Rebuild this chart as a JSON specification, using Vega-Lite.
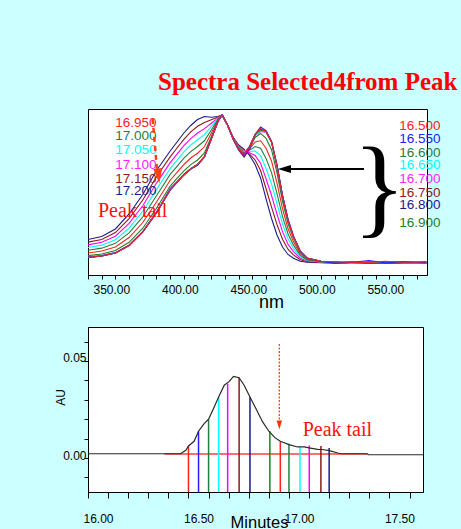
{
"$schema": "https://vega.github.io/schema/vega-lite/v6.json",
"background": "#CCFFFF",
"padding": {"left": 53, "top": 69, "right": 5, "bottom": 5},
"bounds": "flush",
"spacing": 52,
"config": {
  "view": {"stroke": "#000000", "strokeWidth": 1, "fill": "#FFFFFF"},
  "axis": {"domainColor": "#000", "tickColor": "#000", "labelColor": "#000", "titleColor": "#000", "labelFont": "Liberation Sans", "titleFont": "Liberation Sans", "grid": false, "titleFontWeight": "normal", "labelOverlap": false, "labelBound": false}
},
"vconcat": [
{
  "width": 339, "height": 166,
  "title": {"text": "Spectra Selected4from Peak", "font": "Liberation Serif", "fontSize": 25, "fontWeight": "bold", "color": "#FF0000", "anchor": "start", "frame": "group", "dx": 70, "baseline": "alphabetic", "offset": -6},
  "layer": [
    {
      "data": {"values": [
{"t":"17.200","w":350,"a":0.17},{"t":"17.200","w":360,"a":0.19},{"t":"17.200","w":370,"a":0.24},{"t":"17.200","w":380,"a":0.34},{"t":"17.200","w":390,"a":0.47},{"t":"17.200","w":400,"a":0.63},{"t":"17.200","w":410,"a":0.76},{"t":"17.200","w":415,"a":0.82},{"t":"17.200","w":420,"a":0.88},{"t":"17.200","w":425,"a":0.93},{"t":"17.200","w":430,"a":0.97},{"t":"17.200","w":435,"a":0.99},{"t":"17.200","w":440,"a":0.985},{"t":"17.200","w":445,"a":0.99},{"t":"17.200","w":448,"a":1.0},{"t":"17.200","w":452,"a":0.93},{"t":"17.200","w":456,"a":0.85},{"t":"17.200","w":460,"a":0.80},{"t":"17.200","w":464,"a":0.77},{"t":"17.200","w":468,"a":0.73},{"t":"17.200","w":472,"a":0.67},{"t":"17.200","w":476,"a":0.58},{"t":"17.200","w":480,"a":0.44},{"t":"17.200","w":484,"a":0.31},{"t":"17.200","w":488,"a":0.20},{"t":"17.200","w":492,"a":0.12},{"t":"17.200","w":496,"a":0.07},{"t":"17.200","w":500,"a":0.045},{"t":"17.200","w":505,"a":0.025},{"t":"17.200","w":510,"a":0.018},{"t":"17.200","w":520,"a":0.015},{"t":"17.200","w":530,"a":0.012},{"t":"17.200","w":542,"a":0.02},{"t":"17.200","w":555,"a":0.01},{"t":"17.200","w":567,"a":0.015},{"t":"17.200","w":580,"a":0.012},{"t":"17.200","w":597,"a":0.02},
{"t":"17.150","w":350,"a":0.152},{"t":"17.150","w":360,"a":0.17},{"t":"17.150","w":370,"a":0.216},{"t":"17.150","w":380,"a":0.309},{"t":"17.150","w":390,"a":0.433},{"t":"17.150","w":400,"a":0.588},{"t":"17.150","w":410,"a":0.721},{"t":"17.150","w":415,"a":0.78},{"t":"17.150","w":420,"a":0.838},{"t":"17.150","w":425,"a":0.887},{"t":"17.150","w":430,"a":0.925},{"t":"17.150","w":435,"a":0.95},{"t":"17.150","w":440,"a":0.968},{"t":"17.150","w":445,"a":0.986},{"t":"17.150","w":448,"a":1.0},{"t":"17.150","w":452,"a":0.93},{"t":"17.150","w":456,"a":0.849},{"t":"17.150","w":460,"a":0.796},{"t":"17.150","w":464,"a":0.766},{"t":"17.150","w":468,"a":0.739},{"t":"17.150","w":472,"a":0.70},{"t":"17.150","w":476,"a":0.63},{"t":"17.150","w":480,"a":0.508},{"t":"17.150","w":484,"a":0.386},{"t":"17.150","w":488,"a":0.269},{"t":"17.150","w":492,"a":0.171},{"t":"17.150","w":496,"a":0.105},{"t":"17.150","w":500,"a":0.067},{"t":"17.150","w":505,"a":0.035},{"t":"17.150","w":510,"a":0.022},{"t":"17.150","w":520,"a":0.016},{"t":"17.150","w":530,"a":0.015},{"t":"17.150","w":542,"a":0.01},{"t":"17.150","w":555,"a":0.018},{"t":"17.150","w":567,"a":0.012},{"t":"17.150","w":580,"a":0.016},{"t":"17.150","w":597,"a":0.01},
{"t":"17.100","w":350,"a":0.134},{"t":"17.100","w":360,"a":0.151},{"t":"17.100","w":370,"a":0.192},{"t":"17.100","w":380,"a":0.277},{"t":"17.100","w":390,"a":0.395},{"t":"17.100","w":400,"a":0.546},{"t":"17.100","w":410,"a":0.682},{"t":"17.100","w":415,"a":0.739},{"t":"17.100","w":420,"a":0.796},{"t":"17.100","w":425,"a":0.843},{"t":"17.100","w":430,"a":0.88},{"t":"17.100","w":435,"a":0.909},{"t":"17.100","w":440,"a":0.945},{"t":"17.100","w":445,"a":0.981},{"t":"17.100","w":448,"a":1.0},{"t":"17.100","w":452,"a":0.93},{"t":"17.100","w":456,"a":0.847},{"t":"17.100","w":460,"a":0.791},{"t":"17.100","w":464,"a":0.761},{"t":"17.100","w":468,"a":0.748},{"t":"17.100","w":472,"a":0.73},{"t":"17.100","w":476,"a":0.679},{"t":"17.100","w":480,"a":0.575},{"t":"17.100","w":484,"a":0.463},{"t":"17.100","w":488,"a":0.338},{"t":"17.100","w":492,"a":0.222},{"t":"17.100","w":496,"a":0.139},{"t":"17.100","w":500,"a":0.089},{"t":"17.100","w":505,"a":0.045},{"t":"17.100","w":510,"a":0.026},{"t":"17.100","w":520,"a":0.018},{"t":"17.100","w":530,"a":0.018},{"t":"17.100","w":542,"a":0.012},{"t":"17.100","w":555,"a":0.014},{"t":"17.100","w":567,"a":0.02},{"t":"17.100","w":580,"a":0.01},{"t":"17.100","w":597,"a":0.015},
{"t":"17.050","w":350,"a":0.116},{"t":"17.050","w":360,"a":0.132},{"t":"17.050","w":370,"a":0.168},{"t":"17.050","w":380,"a":0.246},{"t":"17.050","w":390,"a":0.358},{"t":"17.050","w":400,"a":0.504},{"t":"17.050","w":410,"a":0.643},{"t":"17.050","w":415,"a":0.699},{"t":"17.050","w":420,"a":0.754},{"t":"17.050","w":425,"a":0.80},{"t":"17.050","w":430,"a":0.835},{"t":"17.050","w":435,"a":0.869},{"t":"17.050","w":440,"a":0.923},{"t":"17.050","w":445,"a":0.977},{"t":"17.050","w":448,"a":1.0},{"t":"17.050","w":452,"a":0.93},{"t":"17.050","w":456,"a":0.846},{"t":"17.050","w":460,"a":0.787},{"t":"17.050","w":464,"a":0.757},{"t":"17.050","w":468,"a":0.757},{"t":"17.050","w":472,"a":0.76},{"t":"17.050","w":476,"a":0.729},{"t":"17.050","w":480,"a":0.643},{"t":"17.050","w":484,"a":0.54},{"t":"17.050","w":488,"a":0.407},{"t":"17.050","w":492,"a":0.273},{"t":"17.050","w":496,"a":0.174},{"t":"17.050","w":500,"a":0.11},{"t":"17.050","w":505,"a":0.054},{"t":"17.050","w":510,"a":0.03},{"t":"17.050","w":520,"a":0.02},{"t":"17.050","w":530,"a":0.014},{"t":"17.050","w":542,"a":0.018},{"t":"17.050","w":555,"a":0.012},{"t":"17.050","w":567,"a":0.01},{"t":"17.050","w":580,"a":0.018},{"t":"17.050","w":597,"a":0.012},
{"t":"17.000","w":350,"a":0.098},{"t":"17.000","w":360,"a":0.112},{"t":"17.000","w":370,"a":0.144},{"t":"17.000","w":380,"a":0.214},{"t":"17.000","w":390,"a":0.32},{"t":"17.000","w":400,"a":0.462},{"t":"17.000","w":410,"a":0.604},{"t":"17.000","w":415,"a":0.658},{"t":"17.000","w":420,"a":0.712},{"t":"17.000","w":425,"a":0.756},{"t":"17.000","w":430,"a":0.79},{"t":"17.000","w":435,"a":0.828},{"t":"17.000","w":440,"a":0.90},{"t":"17.000","w":445,"a":0.972},{"t":"17.000","w":448,"a":1.0},{"t":"17.000","w":452,"a":0.93},{"t":"17.000","w":456,"a":0.844},{"t":"17.000","w":460,"a":0.782},{"t":"17.000","w":464,"a":0.752},{"t":"17.000","w":468,"a":0.766},{"t":"17.000","w":472,"a":0.79},{"t":"17.000","w":476,"a":0.778},{"t":"17.000","w":480,"a":0.71},{"t":"17.000","w":484,"a":0.616},{"t":"17.000","w":488,"a":0.476},{"t":"17.000","w":492,"a":0.324},{"t":"17.000","w":496,"a":0.208},{"t":"17.000","w":500,"a":0.132},{"t":"17.000","w":505,"a":0.064},{"t":"17.000","w":510,"a":0.034},{"t":"17.000","w":520,"a":0.021},{"t":"17.000","w":530,"a":0.016},{"t":"17.000","w":542,"a":0.012},{"t":"17.000","w":555,"a":0.02},{"t":"17.000","w":567,"a":0.014},{"t":"17.000","w":580,"a":0.012},{"t":"17.000","w":597,"a":0.018},
{"t":"16.950","w":350,"a":0.08},{"t":"16.950","w":360,"a":0.093},{"t":"16.950","w":370,"a":0.12},{"t":"16.950","w":380,"a":0.183},{"t":"16.950","w":390,"a":0.283},{"t":"16.950","w":400,"a":0.42},{"t":"16.950","w":410,"a":0.565},{"t":"16.950","w":415,"a":0.618},{"t":"16.950","w":420,"a":0.67},{"t":"16.950","w":425,"a":0.713},{"t":"16.950","w":430,"a":0.745},{"t":"16.950","w":435,"a":0.788},{"t":"16.950","w":440,"a":0.878},{"t":"16.950","w":445,"a":0.968},{"t":"16.950","w":448,"a":1.0},{"t":"16.950","w":452,"a":0.93},{"t":"16.950","w":456,"a":0.843},{"t":"16.950","w":460,"a":0.778},{"t":"16.950","w":464,"a":0.748},{"t":"16.950","w":468,"a":0.775},{"t":"16.950","w":472,"a":0.82},{"t":"16.950","w":476,"a":0.828},{"t":"16.950","w":480,"a":0.778},{"t":"16.950","w":484,"a":0.693},{"t":"16.950","w":488,"a":0.545},{"t":"16.950","w":492,"a":0.375},{"t":"16.950","w":496,"a":0.243},{"t":"16.950","w":500,"a":0.154},{"t":"16.950","w":505,"a":0.074},{"t":"16.950","w":510,"a":0.038},{"t":"16.950","w":520,"a":0.022},{"t":"16.950","w":530,"a":0.02},{"t":"16.950","w":542,"a":0.015},{"t":"16.950","w":555,"a":0.012},{"t":"16.950","w":567,"a":0.018},{"t":"16.950","w":580,"a":0.022},{"t":"16.950","w":597,"a":0.014},
{"t":"16.900","w":350,"a":0.062},{"t":"16.900","w":360,"a":0.073},{"t":"16.900","w":370,"a":0.096},{"t":"16.900","w":380,"a":0.151},{"t":"16.900","w":390,"a":0.245},{"t":"16.900","w":400,"a":0.378},{"t":"16.900","w":410,"a":0.526},{"t":"16.900","w":415,"a":0.577},{"t":"16.900","w":420,"a":0.628},{"t":"16.900","w":425,"a":0.669},{"t":"16.900","w":430,"a":0.70},{"t":"16.900","w":435,"a":0.747},{"t":"16.900","w":440,"a":0.855},{"t":"16.900","w":445,"a":0.963},{"t":"16.900","w":448,"a":1.0},{"t":"16.900","w":452,"a":0.93},{"t":"16.900","w":456,"a":0.841},{"t":"16.900","w":460,"a":0.773},{"t":"16.900","w":464,"a":0.743},{"t":"16.900","w":468,"a":0.784},{"t":"16.900","w":472,"a":0.85},{"t":"16.900","w":476,"a":0.877},{"t":"16.900","w":480,"a":0.845},{"t":"16.900","w":484,"a":0.769},{"t":"16.900","w":488,"a":0.614},{"t":"16.900","w":492,"a":0.426},{"t":"16.900","w":496,"a":0.277},{"t":"16.900","w":500,"a":0.176},{"t":"16.900","w":505,"a":0.084},{"t":"16.900","w":510,"a":0.042},{"t":"16.900","w":520,"a":0.024},{"t":"16.900","w":530,"a":0.015},{"t":"16.900","w":542,"a":0.02},{"t":"16.900","w":555,"a":0.014},{"t":"16.900","w":567,"a":0.012},{"t":"16.900","w":580,"a":0.016},{"t":"16.900","w":597,"a":0.012},
{"t":"16.800","w":350,"a":0.052},{"t":"16.800","w":360,"a":0.062},{"t":"16.800","w":370,"a":0.082},{"t":"16.800","w":380,"a":0.132},{"t":"16.800","w":390,"a":0.222},{"t":"16.800","w":400,"a":0.352},{"t":"16.800","w":410,"a":0.51},{"t":"16.800","w":415,"a":0.555},{"t":"16.800","w":420,"a":0.603},{"t":"16.800","w":425,"a":0.642},{"t":"16.800","w":430,"a":0.672},{"t":"16.800","w":435,"a":0.722},{"t":"16.800","w":440,"a":0.842},{"t":"16.800","w":445,"a":0.96},{"t":"16.800","w":448,"a":1.0},{"t":"16.800","w":452,"a":0.93},{"t":"16.800","w":456,"a":0.838},{"t":"16.800","w":460,"a":0.765},{"t":"16.800","w":464,"a":0.72},{"t":"16.800","w":468,"a":0.775},{"t":"16.800","w":472,"a":0.865},{"t":"16.800","w":476,"a":0.905},{"t":"16.800","w":480,"a":0.888},{"t":"16.800","w":484,"a":0.818},{"t":"16.800","w":488,"a":0.658},{"t":"16.800","w":492,"a":0.458},{"t":"16.800","w":496,"a":0.298},{"t":"16.800","w":500,"a":0.188},{"t":"16.800","w":505,"a":0.089},{"t":"16.800","w":510,"a":0.045},{"t":"16.800","w":520,"a":0.025},{"t":"16.800","w":530,"a":0.018},{"t":"16.800","w":542,"a":0.012},{"t":"16.800","w":555,"a":0.02},{"t":"16.800","w":567,"a":0.016},{"t":"16.800","w":580,"a":0.014},{"t":"16.800","w":597,"a":0.02},
{"t":"16.750","w":350,"a":0.05},{"t":"16.750","w":360,"a":0.06},{"t":"16.750","w":370,"a":0.08},{"t":"16.750","w":380,"a":0.13},{"t":"16.750","w":390,"a":0.22},{"t":"16.750","w":400,"a":0.35},{"t":"16.750","w":410,"a":0.50},{"t":"16.750","w":415,"a":0.55},{"t":"16.750","w":420,"a":0.60},{"t":"16.750","w":425,"a":0.64},{"t":"16.750","w":430,"a":0.67},{"t":"16.750","w":435,"a":0.72},{"t":"16.750","w":440,"a":0.84},{"t":"16.750","w":445,"a":0.96},{"t":"16.750","w":448,"a":1.0},{"t":"16.750","w":452,"a":0.93},{"t":"16.750","w":456,"a":0.84},{"t":"16.750","w":460,"a":0.768},{"t":"16.750","w":464,"a":0.725},{"t":"16.750","w":468,"a":0.78},{"t":"16.750","w":472,"a":0.865},{"t":"16.750","w":476,"a":0.90},{"t":"16.750","w":480,"a":0.887},{"t":"16.750","w":484,"a":0.82},{"t":"16.750","w":488,"a":0.66},{"t":"16.750","w":492,"a":0.46},{"t":"16.750","w":496,"a":0.30},{"t":"16.750","w":500,"a":0.19},{"t":"16.750","w":505,"a":0.09},{"t":"16.750","w":510,"a":0.045},{"t":"16.750","w":520,"a":0.025},{"t":"16.750","w":530,"a":0.015},{"t":"16.750","w":542,"a":0.018},{"t":"16.750","w":555,"a":0.012},{"t":"16.750","w":567,"a":0.014},{"t":"16.750","w":580,"a":0.02},{"t":"16.750","w":597,"a":0.015},
{"t":"16.700","w":350,"a":0.051},{"t":"16.700","w":360,"a":0.061},{"t":"16.700","w":370,"a":0.081},{"t":"16.700","w":380,"a":0.131},{"t":"16.700","w":390,"a":0.222},{"t":"16.700","w":400,"a":0.355},{"t":"16.700","w":410,"a":0.505},{"t":"16.700","w":415,"a":0.553},{"t":"16.700","w":420,"a":0.602},{"t":"16.700","w":425,"a":0.641},{"t":"16.700","w":430,"a":0.671},{"t":"16.700","w":435,"a":0.721},{"t":"16.700","w":440,"a":0.841},{"t":"16.700","w":445,"a":0.96},{"t":"16.700","w":448,"a":1.0},{"t":"16.700","w":452,"a":0.93},{"t":"16.700","w":456,"a":0.84},{"t":"16.700","w":460,"a":0.768},{"t":"16.700","w":464,"a":0.73},{"t":"16.700","w":468,"a":0.782},{"t":"16.700","w":472,"a":0.866},{"t":"16.700","w":476,"a":0.89},{"t":"16.700","w":480,"a":0.885},{"t":"16.700","w":484,"a":0.82},{"t":"16.700","w":488,"a":0.662},{"t":"16.700","w":492,"a":0.462},{"t":"16.700","w":496,"a":0.302},{"t":"16.700","w":500,"a":0.19},{"t":"16.700","w":505,"a":0.09},{"t":"16.700","w":510,"a":0.046},{"t":"16.700","w":520,"a":0.025},{"t":"16.700","w":530,"a":0.02},{"t":"16.700","w":542,"a":0.014},{"t":"16.700","w":555,"a":0.016},{"t":"16.700","w":567,"a":0.012},{"t":"16.700","w":580,"a":0.018},{"t":"16.700","w":597,"a":0.012},
{"t":"16.650","w":350,"a":0.05},{"t":"16.650","w":360,"a":0.06},{"t":"16.650","w":370,"a":0.08},{"t":"16.650","w":380,"a":0.13},{"t":"16.650","w":390,"a":0.22},{"t":"16.650","w":400,"a":0.35},{"t":"16.650","w":410,"a":0.50},{"t":"16.650","w":415,"a":0.55},{"t":"16.650","w":420,"a":0.60},{"t":"16.650","w":425,"a":0.64},{"t":"16.650","w":430,"a":0.67},{"t":"16.650","w":435,"a":0.72},{"t":"16.650","w":440,"a":0.84},{"t":"16.650","w":445,"a":0.96},{"t":"16.650","w":448,"a":1.0},{"t":"16.650","w":452,"a":0.93},{"t":"16.650","w":456,"a":0.84},{"t":"16.650","w":460,"a":0.77},{"t":"16.650","w":464,"a":0.75},{"t":"16.650","w":468,"a":0.79},{"t":"16.650","w":472,"a":0.868},{"t":"16.650","w":476,"a":0.895},{"t":"16.650","w":480,"a":0.886},{"t":"16.650","w":484,"a":0.82},{"t":"16.650","w":488,"a":0.66},{"t":"16.650","w":492,"a":0.46},{"t":"16.650","w":496,"a":0.30},{"t":"16.650","w":500,"a":0.19},{"t":"16.650","w":505,"a":0.09},{"t":"16.650","w":510,"a":0.045},{"t":"16.650","w":520,"a":0.025},{"t":"16.650","w":530,"a":0.016},{"t":"16.650","w":542,"a":0.012},{"t":"16.650","w":555,"a":0.018},{"t":"16.650","w":567,"a":0.02},{"t":"16.650","w":580,"a":0.013},{"t":"16.650","w":597,"a":0.016},
{"t":"16.600","w":350,"a":0.05},{"t":"16.600","w":360,"a":0.06},{"t":"16.600","w":370,"a":0.08},{"t":"16.600","w":380,"a":0.13},{"t":"16.600","w":390,"a":0.22},{"t":"16.600","w":400,"a":0.35},{"t":"16.600","w":410,"a":0.50},{"t":"16.600","w":415,"a":0.55},{"t":"16.600","w":420,"a":0.605},{"t":"16.600","w":425,"a":0.64},{"t":"16.600","w":430,"a":0.67},{"t":"16.600","w":435,"a":0.72},{"t":"16.600","w":440,"a":0.84},{"t":"16.600","w":445,"a":0.96},{"t":"16.600","w":448,"a":1.0},{"t":"16.600","w":452,"a":0.93},{"t":"16.600","w":456,"a":0.84},{"t":"16.600","w":460,"a":0.77},{"t":"16.600","w":464,"a":0.745},{"t":"16.600","w":468,"a":0.79},{"t":"16.600","w":472,"a":0.87},{"t":"16.600","w":476,"a":0.90},{"t":"16.600","w":480,"a":0.888},{"t":"16.600","w":484,"a":0.82},{"t":"16.600","w":488,"a":0.66},{"t":"16.600","w":492,"a":0.46},{"t":"16.600","w":496,"a":0.30},{"t":"16.600","w":500,"a":0.19},{"t":"16.600","w":505,"a":0.09},{"t":"16.600","w":510,"a":0.045},{"t":"16.600","w":520,"a":0.025},{"t":"16.600","w":530,"a":0.014},{"t":"16.600","w":542,"a":0.02},{"t":"16.600","w":555,"a":0.015},{"t":"16.600","w":567,"a":0.012},{"t":"16.600","w":580,"a":0.016},{"t":"16.600","w":597,"a":0.018},
{"t":"16.550","w":350,"a":0.05},{"t":"16.550","w":360,"a":0.06},{"t":"16.550","w":370,"a":0.08},{"t":"16.550","w":380,"a":0.13},{"t":"16.550","w":390,"a":0.22},{"t":"16.550","w":400,"a":0.345},{"t":"16.550","w":410,"a":0.50},{"t":"16.550","w":415,"a":0.55},{"t":"16.550","w":420,"a":0.60},{"t":"16.550","w":425,"a":0.64},{"t":"16.550","w":430,"a":0.665},{"t":"16.550","w":435,"a":0.72},{"t":"16.550","w":440,"a":0.84},{"t":"16.550","w":445,"a":0.96},{"t":"16.550","w":448,"a":1.0},{"t":"16.550","w":452,"a":0.93},{"t":"16.550","w":456,"a":0.84},{"t":"16.550","w":460,"a":0.77},{"t":"16.550","w":464,"a":0.735},{"t":"16.550","w":468,"a":0.79},{"t":"16.550","w":472,"a":0.872},{"t":"16.550","w":476,"a":0.92},{"t":"16.550","w":480,"a":0.895},{"t":"16.550","w":484,"a":0.825},{"t":"16.550","w":488,"a":0.665},{"t":"16.550","w":492,"a":0.465},{"t":"16.550","w":496,"a":0.305},{"t":"16.550","w":500,"a":0.192},{"t":"16.550","w":505,"a":0.092},{"t":"16.550","w":510,"a":0.046},{"t":"16.550","w":520,"a":0.025},{"t":"16.550","w":530,"a":0.012},{"t":"16.550","w":542,"a":0.016},{"t":"16.550","w":555,"a":0.03},{"t":"16.550","w":567,"a":0.014},{"t":"16.550","w":580,"a":0.02},{"t":"16.550","w":597,"a":0.016},
{"t":"16.500","w":350,"a":0.05},{"t":"16.500","w":360,"a":0.06},{"t":"16.500","w":370,"a":0.08},{"t":"16.500","w":380,"a":0.13},{"t":"16.500","w":390,"a":0.22},{"t":"16.500","w":400,"a":0.35},{"t":"16.500","w":410,"a":0.50},{"t":"16.500","w":415,"a":0.55},{"t":"16.500","w":420,"a":0.60},{"t":"16.500","w":425,"a":0.64},{"t":"16.500","w":430,"a":0.67},{"t":"16.500","w":435,"a":0.72},{"t":"16.500","w":440,"a":0.84},{"t":"16.500","w":445,"a":0.96},{"t":"16.500","w":448,"a":1.0},{"t":"16.500","w":452,"a":0.93},{"t":"16.500","w":456,"a":0.84},{"t":"16.500","w":460,"a":0.77},{"t":"16.500","w":464,"a":0.74},{"t":"16.500","w":468,"a":0.79},{"t":"16.500","w":472,"a":0.87},{"t":"16.500","w":476,"a":0.91},{"t":"16.500","w":480,"a":0.89},{"t":"16.500","w":484,"a":0.82},{"t":"16.500","w":488,"a":0.66},{"t":"16.500","w":492,"a":0.46},{"t":"16.500","w":496,"a":0.30},{"t":"16.500","w":500,"a":0.19},{"t":"16.500","w":505,"a":0.09},{"t":"16.500","w":510,"a":0.045},{"t":"16.500","w":520,"a":0.025},{"t":"16.500","w":530,"a":0.022},{"t":"16.500","w":542,"a":0.018},{"t":"16.500","w":555,"a":0.016},{"t":"16.500","w":567,"a":0.025},{"t":"16.500","w":580,"a":0.018},{"t":"16.500","w":597,"a":0.02}
      ]},
      "mark": {"type": "line", "strokeWidth": 1.1, "clip": true},
      "encoding": {
        "x": {"field": "w", "type": "quantitative", "scale": {"domain": [350, 597.5], "nice": false, "zero": false},
              "axis": {"values": [350,360,370,380,390,400,410,420,430,440,450,460,470,480,490,500,510,520,530,540,550,560,570,580,590], "tickCount": 100, "labelExpr": "datum.value % 50 === 0 ? format(datum.value, '.2f') : ''", "labelAlign": "left", "labelOffset": 5, "labelFontSize": 12, "tickSize": 4, "labelPadding": 5, "labelOverlap": false, "labelFlush": false, "title": "nm", "titleFontSize": 18, "titleX": 183, "titleY": 27, "titleBaseline": "middle"}},
        "y": {"field": "a", "type": "quantitative", "scale": {"domain": [-0.067, 1.04], "nice": false, "zero": false}, "axis": null},
        "color": {"field": "t", "type": "nominal", "scale": {"domain": ["16.500","16.550","16.600","16.650","16.700","16.750","16.800","16.900","16.950","17.000","17.050","17.100","17.150","17.200"], "range": ["#FF2020","#2020FF","#208040","#00FFFF","#FF00FF","#8B1A1A","#1A1A8B","#208020","#FF2020","#208040","#00FFFF","#FF00FF","#8B1A1A","#1A1A8B"]}, "legend": null}
      }
    },
    {"data": {"values": [{"s": "16.500"}]}, "mark": {"type": "text", "align": "left", "baseline": "middle", "font": "Liberation Sans", "fontSize": 13.5, "color": "#FF2020"}, "encoding": {"x": {"datum": 577.2}, "y": {"datum": 0.927}, "text": {"field": "s"}}},
    {"data": {"values": [{"s": "16.550"}]}, "mark": {"type": "text", "align": "left", "baseline": "middle", "font": "Liberation Sans", "fontSize": 13.5, "color": "#2020FF"}, "encoding": {"x": {"datum": 577.2}, "y": {"datum": 0.842}, "text": {"field": "s"}}},
    {"data": {"values": [{"s": "16.600"}]}, "mark": {"type": "text", "align": "left", "baseline": "middle", "font": "Liberation Sans", "fontSize": 13.5, "color": "#208040"}, "encoding": {"x": {"datum": 577.2}, "y": {"datum": 0.749}, "text": {"field": "s"}}},
    {"data": {"values": [{"s": "16.650"}]}, "mark": {"type": "text", "align": "left", "baseline": "middle", "font": "Liberation Sans", "fontSize": 13.5, "color": "#00FFFF"}, "encoding": {"x": {"datum": 577.2}, "y": {"datum": 0.667}, "text": {"field": "s"}}},
    {"data": {"values": [{"s": "16.700"}]}, "mark": {"type": "text", "align": "left", "baseline": "middle", "font": "Liberation Sans", "fontSize": 13.5, "color": "#FF20FF"}, "encoding": {"x": {"datum": 577.2}, "y": {"datum": 0.575}, "text": {"field": "s"}}},
    {"data": {"values": [{"s": "16.750"}]}, "mark": {"type": "text", "align": "left", "baseline": "middle", "font": "Liberation Sans", "fontSize": 13.5, "color": "#8B1A1A"}, "encoding": {"x": {"datum": 577.2}, "y": {"datum": 0.482}, "text": {"field": "s"}}},
    {"data": {"values": [{"s": "16.800"}]}, "mark": {"type": "text", "align": "left", "baseline": "middle", "font": "Liberation Sans", "fontSize": 13.5, "color": "#1A1A8B"}, "encoding": {"x": {"datum": 577.2}, "y": {"datum": 0.40}, "text": {"field": "s"}}},
    {"data": {"values": [{"s": "16.900"}]}, "mark": {"type": "text", "align": "left", "baseline": "middle", "font": "Liberation Sans", "fontSize": 13.5, "color": "#208020"}, "encoding": {"x": {"datum": 577.2}, "y": {"datum": 0.282}, "text": {"field": "s"}}},
    {"data": {"values": [{"s": "16.950"}]}, "mark": {"type": "text", "align": "left", "baseline": "middle", "font": "Liberation Sans", "fontSize": 13.5, "color": "#FF2020"}, "encoding": {"x": {"datum": 369.9}, "y": {"datum": 0.949}, "text": {"field": "s"}}},
    {"data": {"values": [{"s": "17.000"}]}, "mark": {"type": "text", "align": "left", "baseline": "middle", "font": "Liberation Sans", "fontSize": 13.5, "color": "#208040"}, "encoding": {"x": {"datum": 369.9}, "y": {"datum": 0.86}, "text": {"field": "s"}}},
    {"data": {"values": [{"s": "17.050"}]}, "mark": {"type": "text", "align": "left", "baseline": "middle", "font": "Liberation Sans", "fontSize": 13.5, "color": "#00FFFF"}, "encoding": {"x": {"datum": 369.9}, "y": {"datum": 0.765}, "text": {"field": "s"}}},
    {"data": {"values": [{"s": "17.100"}]}, "mark": {"type": "text", "align": "left", "baseline": "middle", "font": "Liberation Sans", "fontSize": 13.5, "color": "#FF20FF"}, "encoding": {"x": {"datum": 369.9}, "y": {"datum": 0.669}, "text": {"field": "s"}}},
    {"data": {"values": [{"s": "17.150"}]}, "mark": {"type": "text", "align": "left", "baseline": "middle", "font": "Liberation Sans", "fontSize": 13.5, "color": "#8B1A1A"}, "encoding": {"x": {"datum": 369.9}, "y": {"datum": 0.575}, "text": {"field": "s"}}},
    {"data": {"values": [{"s": "17.200"}]}, "mark": {"type": "text", "align": "left", "baseline": "middle", "font": "Liberation Sans", "fontSize": 13.5, "color": "#1A1A8B"}, "encoding": {"x": {"datum": 369.9}, "y": {"datum": 0.491}, "text": {"field": "s"}}},
    {"data": {"values": [{"s": "Peak tail"}]}, "mark": {"type": "text", "align": "left", "baseline": "alphabetic", "font": "Liberation Serif", "fontSize": 20, "color": "#FF1010"}, "encoding": {"x": {"datum": 357.3}, "y": {"datum": 0.32}, "text": {"field": "s"}}},
    {"data": {"values": [{"s": "arrow"}]}, "mark": {"type": "rule", "color": "#FF4010", "strokeWidth": 2.5, "strokeDash": [5, 4]}, "encoding": {"x": {"datum": 397.2}, "y": {"datum": 0.973}, "x2": {"datum": 400.4}, "y2": {"datum": 0.633}}},
    {"data": {"values": [{"s": "head"}]}, "mark": {"type": "point", "shape": "M-0.6,-1L0.6,-1L0,1Z", "filled": true, "size": 225, "color": "#FF4010", "opacity": 1, "angle": -6}, "encoding": {"x": {"datum": 401.5}, "y": {"datum": 0.593}}},
    {"data": {"values": [{"s": "arrow"}]}, "mark": {"type": "rule", "color": "#000000", "strokeWidth": 2}, "encoding": {"x": {"datum": 551.5}, "x2": {"datum": 494.5}, "y": {"datum": 0.64}}},
    {"data": {"values": [{"s": "head"}]}, "mark": {"type": "point", "shape": "M1,-0.6L1,0.6L-1,0Z", "filled": true, "size": 169, "color": "#000000", "opacity": 1}, "encoding": {"x": {"datum": 493.4}, "y": {"datum": 0.64}}},
    {"data": {"values": [{"s": "}"}]}, "mark": {"type": "text", "align": "center", "baseline": "middle", "font": "Liberation Serif", "fontSize": 110, "color": "#000000"}, "encoding": {"x": {"datum": 562.8}, "y": {"datum": 0.503}, "text": {"field": "s"}}}
  ]
},
{
  "width": 335, "height": 165,
  "layer": [
    {"data": {"values": [{"s": "baseline"}]}, "mark": {"type": "rule", "color": "#FF5555", "strokeWidth": 2, "opacity": 0.85}, "encoding": {"x": {"datum": 16.38}, "x2": {"datum": 17.39}, "y": {"datum": 0.0021}}},
    {
      "data": {"values": [
        {"m": 16.50, "v": 0.0062, "k": "16.50"},
        {"m": 16.55, "v": 0.0138, "k": "16.55"},
        {"m": 16.60, "v": 0.0200, "k": "16.60"},
        {"m": 16.65, "v": 0.0314, "k": "16.65"},
        {"m": 16.695, "v": 0.0383, "k": "16.70"},
        {"m": 16.752, "v": 0.0414, "k": "16.75"},
        {"m": 16.806, "v": 0.0314, "k": "16.80"},
        {"m": 16.905, "v": 0.0138, "k": "16.90"},
        {"m": 16.957, "v": 0.0086, "k": "16.95"},
        {"m": 17.00, "v": 0.0074, "k": "17.00"},
        {"m": 17.055, "v": 0.0057, "k": "17.05"},
        {"m": 17.101, "v": 0.0065, "k": "17.10"},
        {"m": 17.159, "v": 0.0062, "k": "17.15"},
        {"m": 17.20, "v": 0.0052, "k": "17.20"}
      ]},
      "mark": {"type": "rule", "strokeWidth": 1.5},
      "encoding": {
        "x": {"field": "m", "type": "quantitative", "scale": {"domain": [16.0, 17.667], "nice": false, "zero": false},
              "axis": {"values": [16.0,16.1,16.2,16.3,16.4,16.5,16.6,16.7,16.8,16.9,17.0,17.1,17.2,17.3,17.4,17.5,17.6], "tickCount": 100, "labelExpr": "abs(datum.value*2 - round(datum.value*2)) < 0.001 ? format(datum.value, '.2f') : ''", "labelAlign": "left", "labelOffset": -5, "labelFontSize": 12, "tickSize": 6, "labelPadding": 15, "labelOverlap": false, "labelFlush": false, "title": "Minutes", "titleFontSize": 16.5, "titleX": 171, "titleY": 30, "titleBaseline": "middle"}},
        "y": {"field": "v", "type": "quantitative", "scale": {"domain": [-0.0175, 0.0675], "nice": false, "zero": false},
              "axis": {"values": [-0.01, 0, 0.01, 0.02, 0.03, 0.04, 0.05, 0.06], "tickCount": 100, "labelExpr": "abs(datum.value) < 0.000001 ? '0.00' : (abs(datum.value - 0.05) < 0.000001 ? '0.05' : '')", "tickSize": 4, "labelPadding": -2, "labelOffset": -3, "labelFontSize": 12, "labelOverlap": false, "title": "AU", "titleFontSize": 12, "titleX": -28, "titleY": 70, "titleAlign": "center", "titleBaseline": "middle", "titleAngle": -90}},
        "y2": {"datum": -0.0175},
        "color": {"field": "k", "type": "nominal", "scale": {"domain": ["16.50","16.55","16.60","16.65","16.70","16.75","16.80","16.90","16.95","17.00","17.05","17.10","17.15","17.20"], "range": ["#FF3300","#3333CC","#99B84A","#70F0F0","#FF66CC","#B00040","#3355CC","#99BB55","#FF8060","#88AA00","#88FFFF","#FF55EE","#B02050","#8888EE"]}, "legend": null}
      }
    },
    {
      "data": {"values": [
        {"m": 16.00, "v": 0.0022}, {"m": 16.46, "v": 0.0022}, {"m": 16.487, "v": 0.004}, {"m": 16.50, "v": 0.0062},
        {"m": 16.528, "v": 0.0086}, {"m": 16.55, "v": 0.0138}, {"m": 16.578, "v": 0.0177}, {"m": 16.60, "v": 0.0200},
        {"m": 16.628, "v": 0.0263}, {"m": 16.65, "v": 0.0314}, {"m": 16.678, "v": 0.0375}, {"m": 16.703, "v": 0.0395},
        {"m": 16.724, "v": 0.0421}, {"m": 16.752, "v": 0.0414}, {"m": 16.777, "v": 0.0375}, {"m": 16.806, "v": 0.0314},
        {"m": 16.836, "v": 0.0254}, {"m": 16.869, "v": 0.0186}, {"m": 16.90, "v": 0.0138}, {"m": 16.93, "v": 0.0105},
        {"m": 16.957, "v": 0.0086}, {"m": 17.00, "v": 0.0069}, {"m": 17.043, "v": 0.0057}, {"m": 17.076, "v": 0.0057},
        {"m": 17.10, "v": 0.0052}, {"m": 17.143, "v": 0.0045}, {"m": 17.165, "v": 0.0044}, {"m": 17.201, "v": 0.0038},
        {"m": 17.243, "v": 0.0026}, {"m": 17.26, "v": 0.0022}, {"m": 17.39, "v": 0.0022}, {"m": 17.395, "v": 0.0017},
        {"m": 17.667, "v": 0.0017}
      ]},
      "mark": {"type": "line", "color": "#2A2A2A", "strokeWidth": 1.2},
      "encoding": {"x": {"field": "m", "type": "quantitative"}, "y": {"field": "v", "type": "quantitative"}}
    },
    {"data": {"values": [{"s": "arrow"}]}, "mark": {"type": "rule", "color": "#FF3300", "strokeWidth": 1.2, "strokeDash": [2, 1.5]}, "encoding": {"x": {"datum": 16.952}, "y": {"datum": 0.0588}, "y2": {"datum": 0.0175}}},
    {"data": {"values": [{"s": "head"}]}, "mark": {"type": "point", "shape": "M-0.6,-1L0.6,-1L0,1Z", "filled": true, "size": 81, "color": "#FF3300", "opacity": 1}, "encoding": {"x": {"datum": 16.952}, "y": {"datum": 0.017}}},
    {"data": {"values": [{"s": "Peak tail"}]}, "mark": {"type": "text", "align": "left", "baseline": "alphabetic", "font": "Liberation Serif", "fontSize": 20, "color": "#FF1010"}, "encoding": {"x": {"datum": 17.068}, "y": {"datum": 0.01134}, "text": {"field": "s"}}}
  ]
}
]
}
